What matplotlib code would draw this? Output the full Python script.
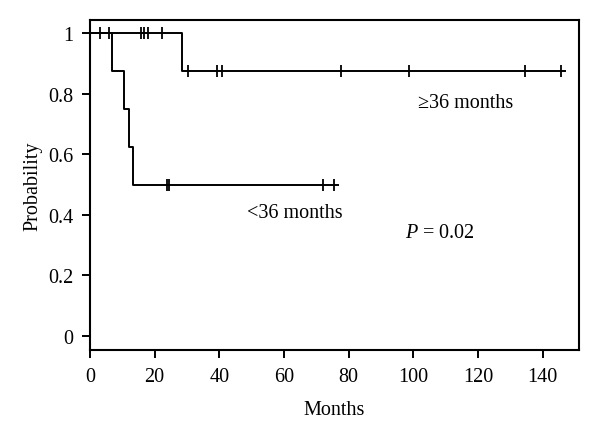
import numpy as np
import matplotlib.pyplot as plt

# =========================
# DATA
# =========================
# >=36 months group: step times and survival levels
ge36_times = [0, 28.5, 146.9]
ge36_surv = [1.0, 0.875, 0.875]
ge36_cens_t = [3.1, 5.9, 15.8, 16.8, 18.0, 22.3, 30.4, 39.4, 40.7, 77.6, 98.7, 134.5, 145.6]
ge36_cens_s = [1.0, 1.0, 1.0, 1.0, 1.0, 1.0, 0.875, 0.875, 0.875, 0.875, 0.875, 0.875, 0.875]

# <36 months group
lt36_times = [0, 6.7, 10.5, 12.2, 13.4, 76.7]
lt36_surv = [1.0, 0.875, 0.75, 0.625, 0.5, 0.5]
lt36_cens_t = [23.9, 24.5, 72.0, 75.4]
lt36_cens_s = [0.5, 0.5, 0.5, 0.5]

x_ticks = [0, 20, 40, 60, 80, 100, 120, 140]
y_ticks = [0, 0.2, 0.4, 0.6, 0.8, 1.0]
y_ticklabels = ["0", "0.2", "0.4", "0.6", "0.8", "1"]

plt.rcParams["font.family"] = ["Liberation Serif", "DejaVu Serif"]
plt.rcParams["mathtext.fontset"] = "custom"
plt.rcParams["mathtext.it"] = "Liberation Serif:italic"
plt.rcParams["mathtext.rm"] = "Liberation Serif"

fs = 14.5

# =========================
# MAKE FIGURE
# =========================
fig = plt.figure(figsize=(6.0, 4.39), dpi=100)
ax = fig.add_axes([90 / 600, 1 - 351 / 439, (579 - 90) / 600, (351 - 21) / 439])

ax.step(ge36_times, ge36_surv, where="post", color="black", linewidth=1.4)
ax.step(lt36_times, lt36_surv, where="post", color="black", linewidth=1.4)
ax.plot(ge36_cens_t, ge36_cens_s, linestyle="none", marker="|", color="black",
        markersize=9, markeredgewidth=1.3)
ax.plot(lt36_cens_t, lt36_cens_s, linestyle="none", marker="|", color="black",
        markersize=9, markeredgewidth=1.3)

ax.text(101.4, 0.772, "\u226536 months", fontsize=fs, va="center", ha="left")
ax.text(48.4, 0.409, "<36 months", fontsize=fs, va="center", ha="left")
ax.text(97.4, 0.343, "$P$ = 0.02", fontsize=fs, va="center", ha="left")

ax.set_xlim(0, 151.2)
ax.set_ylim(-0.046, 1.043)
ax.set_xticks(x_ticks)
ax.set_yticks(y_ticks)
ax.set_yticklabels(y_ticklabels)
ax.tick_params(direction="out", length=6, width=1.4, labelsize=fs, pad=6)
for sp in ax.spines.values():
    sp.set_linewidth(1.5)

ax.set_xlabel("Months", fontsize=fs, labelpad=10)
ax.set_ylabel("Probability", fontsize=fs, labelpad=4)

plt.savefig("out.png", dpi=100)
plt.close()
